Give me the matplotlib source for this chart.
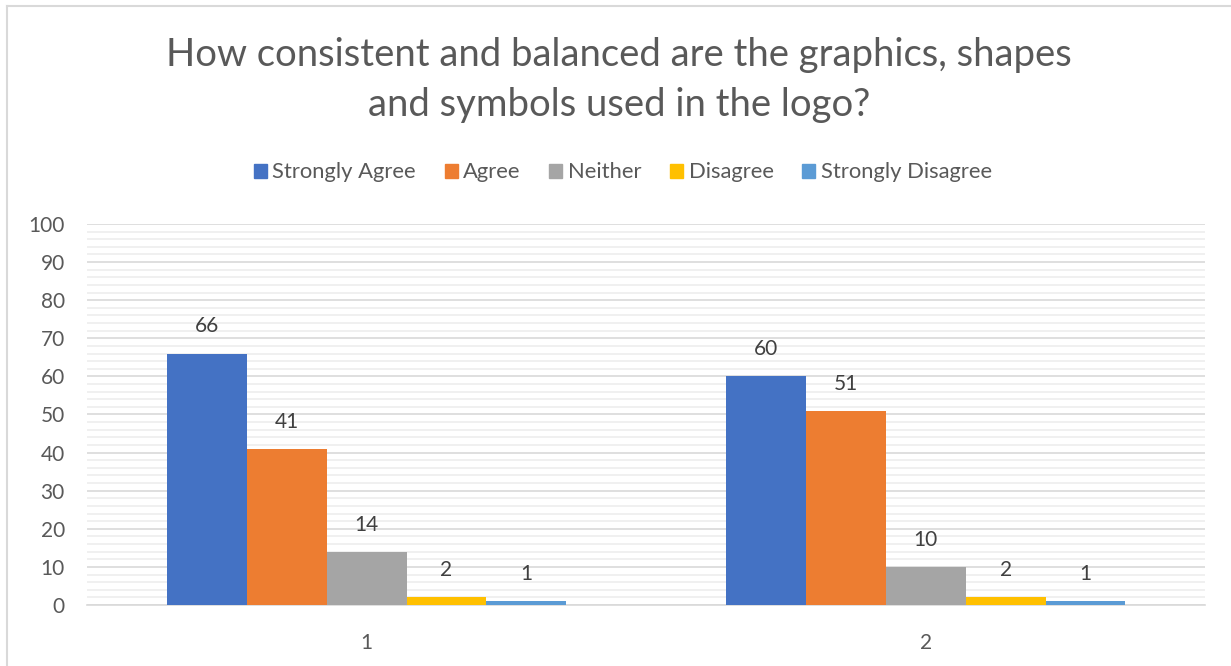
import matplotlib
matplotlib.use('Agg')
import matplotlib.pyplot as plt
from matplotlib.lines import Line2D
from matplotlib.ticker import MultipleLocator
import numpy as np

plt.rcParams['font.family'] = ['Lato', 'DejaVu Sans']

# Survey responses per question
groups = ['1', '2']
series = ['Strongly Agree', 'Agree', 'Neither', 'Disagree', 'Strongly Disagree']
strongly_agree = [66, 60]
agree = [41, 51]
neither = [14, 10]
disagree = [2, 2]
strongly_disagree = [1, 1]
colors = ['#4472C4', '#ED7D31', '#A5A5A5', '#FFC000', '#5B9BD5']

title = 'How consistent and balanced are the graphics, shapes\nand symbols used in the logo?'

values = [strongly_agree, agree, neither, disagree, strongly_disagree]

fig = plt.figure(figsize=(12.31, 6.66), dpi=100)
ax = fig.add_axes([0.0707, 0.0916, 0.9083, 0.5721])

x = np.arange(len(groups))
width = 0.143
offsets = (np.arange(len(series)) - 2) * width

for i, (name, vals) in enumerate(zip(series, values)):
    bars = ax.bar(x + offsets[i], vals, width, color=colors[i], label=name, zorder=3)
    for b, v in zip(bars, vals):
        ax.text(b.get_x() + b.get_width() / 2, v + 4.5, str(v), ha='center', va='bottom',
                fontsize=15, color='#404040')

ax.set_xlim(-0.5, 1.5)
ax.set_ylim(0, 100)
ax.yaxis.set_major_locator(MultipleLocator(10))
ax.yaxis.set_minor_locator(MultipleLocator(2))
ax.grid(axis='y', which='major', color='#d9d9d9', linewidth=1.2, zorder=0)
ax.grid(axis='y', which='minor', color='#f0f0f0', linewidth=1.4, zorder=0)
ax.set_xticks(x)
ax.set_xticklabels(groups)
ax.tick_params(axis='both', which='both', length=0, labelsize=15, labelcolor='#595959')
ax.tick_params(axis='y', pad=16)
ax.tick_params(axis='x', pad=20)
for s in ['top', 'right', 'left']:
    ax.spines[s].set_visible(False)
ax.spines['bottom'].set_color('#d9d9d9')
ax.spines['bottom'].set_linewidth(1.2)

fig.text(0.503, 0.88, title, ha='center', va='center', fontsize=27.5, color='#595959',
         linespacing=1.5)

handles = [plt.Rectangle((0, 0), 1, 1, color=c) for c in colors]
fig.legend(handles, series, loc='center', bbox_to_anchor=(0.506, 0.741), ncol=5, frameon=False,
           fontsize=15.8, handlelength=0.6, handleheight=0.6, handletextpad=0.25, columnspacing=1.3,
           labelcolor='#595959')

# chart frame (top and left edges)
fig.add_artist(Line2D([7 / 1231, 7 / 1231], [0, 1 - 6 / 666], color='#d9d9d9', linewidth=1.5,
                      transform=fig.transFigure))
fig.add_artist(Line2D([7 / 1231, 1], [1 - 6 / 666, 1 - 6 / 666], color='#d9d9d9', linewidth=1.5,
                      transform=fig.transFigure))

fig.savefig('out.png', dpi=100)
